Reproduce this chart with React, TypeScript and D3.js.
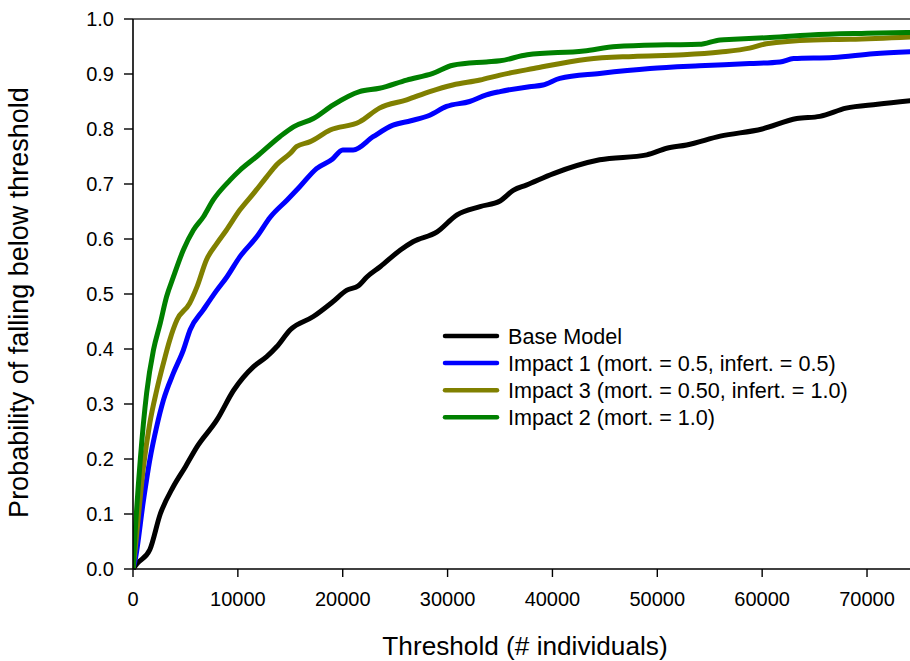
import React from "react";
import * as d3 from "d3";

const baseX = [0, 400, 1600, 2600, 3850, 5000, 6100, 8000, 9600, 11500, 12750, 13700, 15000, 17200, 19000, 20400, 21500, 22300, 23600, 25500, 26700, 29000, 30900, 33100, 35000, 36300, 37500, 40100, 44500, 49000, 50900, 52800, 56000, 60000, 63300, 65500, 68000, 71000, 75000];
const baseY = [0, 0.01, 0.035, 0.1, 0.15, 0.186, 0.222, 0.271, 0.325, 0.368, 0.386, 0.404, 0.435, 0.459, 0.485, 0.507, 0.515, 0.531, 0.55, 0.58, 0.595, 0.613, 0.644, 0.659, 0.669, 0.689, 0.698, 0.719, 0.744, 0.753, 0.765, 0.771, 0.787, 0.8, 0.819, 0.823, 0.838, 0.845, 0.853];

const imp1X = [0, 200, 1000, 1600, 2260, 2900, 3850, 4800, 5450, 6700, 8000, 8950, 10200, 11800, 13100, 14700, 15900, 17500, 19000, 20000, 21000, 22900, 24800, 26500, 28300, 29900, 32100, 33700, 35000, 37800, 39100, 40700, 44500, 49300, 54000, 58800, 61700, 63000, 66800, 70600, 75000];
const imp1Y = [0, 0.016, 0.125, 0.198, 0.259, 0.307, 0.356, 0.398, 0.435, 0.471, 0.507, 0.531, 0.568, 0.604, 0.64, 0.671, 0.695, 0.728, 0.745, 0.762, 0.762, 0.786, 0.807, 0.815, 0.825, 0.841, 0.85, 0.862, 0.868, 0.877, 0.88, 0.892, 0.901, 0.91, 0.915, 0.919, 0.922, 0.928, 0.93, 0.937, 0.941];

const imp3X = [0, 200, 1000, 1600, 2260, 2900, 3500, 4200, 5400, 6100, 7000, 8000, 8900, 10200, 11500, 12750, 13700, 15000, 15600, 16900, 18800, 21600, 23500, 26100, 28300, 30500, 33100, 35000, 38200, 43300, 47700, 52500, 56000, 58800, 60400, 64900, 68400, 75000];
const imp3Y = [0, 0.035, 0.186, 0.265, 0.325, 0.374, 0.416, 0.453, 0.483, 0.513, 0.562, 0.592, 0.616, 0.653, 0.683, 0.713, 0.735, 0.756, 0.768, 0.777, 0.798, 0.813, 0.838, 0.853, 0.868, 0.88, 0.889, 0.898, 0.91, 0.927, 0.932, 0.935, 0.94, 0.947, 0.955, 0.962, 0.963, 0.968];

const imp2X = [0, 200, 700, 1300, 1950, 2600, 3200, 3850, 4800, 5750, 6700, 7650, 9250, 10200, 11800, 14000, 15300, 17200, 19100, 21600, 23500, 26100, 28600, 30500, 33700, 35000, 37600, 43000, 46100, 50900, 54000, 56000, 57300, 60400, 64600, 70000, 75000];
const imp2Y = [0, 0.065, 0.2, 0.32, 0.398, 0.447, 0.495, 0.531, 0.58, 0.616, 0.64, 0.671, 0.707, 0.725, 0.75, 0.786, 0.804, 0.819, 0.844, 0.868, 0.874, 0.889, 0.901, 0.916, 0.922, 0.924, 0.935, 0.942, 0.95, 0.953, 0.954, 0.962, 0.963, 0.966, 0.971, 0.974, 0.976];

const seriesNames = ["Base Model", "Impact 1 (mort. = 0.5, infert. = 0.5)", "Impact 3 (mort. = 0.50, infert. = 1.0)", "Impact 2 (mort. = 1.0)"];
const seriesColors = ["#000000", "#0000ff", "#808000", "#008000"];
const xTicks = [0, 10000, 20000, 30000, 40000, 50000, 60000, 70000];
const yTicks = [0, 0.1, 0.2, 0.3, 0.4, 0.5, 0.6, 0.7, 0.8, 0.9, 1.0];

const W = 910;
const H = 661;
const left = 133;
const top = 19;
const bottom = 569;
const right = 910;
const FONT = "'Liberation Sans', Arial, sans-serif";

export default function App() {
  const x = d3.scaleLinear().domain([0, 80000]).range([left, left + 8 * 104.86]);
  const y = d3.scaleLinear().domain([0, 1]).range([bottom, top]);
  const line = d3
    .line<[number, number]>()
    .x((d) => x(d[0]))
    .y((d) => y(d[1]))
    .curve(d3.curveMonotoneX);

  const xs = [baseX, imp1X, imp3X, imp2X];
  const ys = [baseY, imp1Y, imp3Y, imp2Y];
  const drawOrder = [0, 1, 2, 3];

  const legendX0 = 445;
  const legendX1 = 497;
  const legendY0 = 336;
  const legendDy = 27.1;

  return (
    <svg
      width={W}
      height={H}
      style={{ position: "absolute", left: 0, top: 0, background: "#fff" }}
      fontFamily={FONT}
    >
      <defs>
        <clipPath id="plotclip">
          <rect x={left} y={top - 5} width={right - left} height={bottom - top + 6} />
        </clipPath>
      </defs>
      <rect x={0} y={0} width={W} height={H} fill="#fff" />
      <line x1={left} x2={right} y1={top} y2={top} stroke="#333" strokeWidth={1.6} />
      <g clipPath="url(#plotclip)">
        {drawOrder.map((i) => (
          <path
            key={i}
            d={line(xs[i].map((v, j) => [v, ys[i][j]] as [number, number])) || ""}
            fill="none"
            stroke={seriesColors[i]}
            strokeWidth={5}
            strokeLinejoin="round"
          />
        ))}
      </g>
      <line x1={left} x2={left} y1={top} y2={bottom} stroke="#000" strokeWidth={1.6} />
      <line x1={left} x2={right} y1={bottom} y2={bottom} stroke="#000" strokeWidth={1.6} />
      {xTicks.map((t) => (
        <g key={"x" + t}>
          <line x1={x(t)} x2={x(t)} y1={bottom} y2={bottom + 8} stroke="#000" strokeWidth={1.4} />
          <text x={x(t)} y={606} textAnchor="middle" fontSize={20} fill="#000">
            {t}
          </text>
        </g>
      ))}
      {yTicks.map((t) => (
        <g key={"y" + t}>
          <line x1={left - 9} x2={left} y1={y(t)} y2={y(t)} stroke="#000" strokeWidth={1.4} />
          <text x={114} y={y(t)} textAnchor="end" dominantBaseline="central" fontSize={20} fill="#000">
            {t.toFixed(1)}
          </text>
        </g>
      ))}
      <text x={525} y={655} textAnchor="middle" fontSize={26.2} fill="#000">
        Threshold (# individuals)
      </text>
      <text
        transform={`translate(28, ${(85 + 520) / 2}) rotate(-90)`}
        textAnchor="middle"
        fontSize={27}
        fill="#000"
      >
        Probability of falling below threshold
      </text>
      {seriesNames.map((name, i) => (
        <g key={name}>
          <line
            x1={legendX0}
            x2={legendX1}
            y1={legendY0 + i * legendDy}
            y2={legendY0 + i * legendDy}
            stroke={seriesColors[i]}
            strokeWidth={4.5}
            strokeLinecap="round"
          />
          <text x={508} y={legendY0 + i * legendDy} dominantBaseline="central" fontSize={21.6} fill="#000">
            {name}
          </text>
        </g>
      ))}
    </svg>
  );
}
